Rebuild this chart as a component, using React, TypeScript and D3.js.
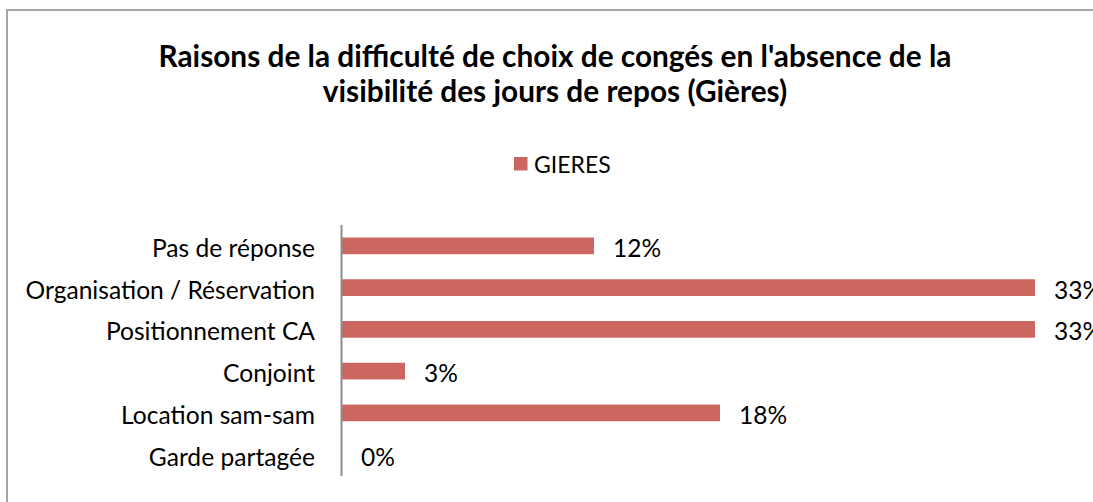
import React from 'react';
import * as d3 from 'd3';

const categories = [
  'Pas de réponse',
  'Organisation / Réservation',
  'Positionnement CA',
  'Conjoint',
  'Location sam-sam',
  'Garde partagée',
];
const values = [12, 33, 33, 3, 18, 0];
const seriesName = 'GIERES';
const titleLines = [
  "Raisons de la difficulté de choix de congés en l'absence de la",
  'visibilité des jours de repos (Gières)',
];

const W = 1093;
const H = 502;
const FONT = 'Lato, "Open Sans", sans-serif';
const BAR = '#CC6661';

const App = () => {
  const y = d3.scaleBand<string>()
    .domain(categories)
    .range([225, 475.5])
    .paddingInner(0.6)
    .paddingOuter(0.3);

  const x = d3.scaleLinear().domain([0, 35]).range([342, 1077]);

  return (
    <svg width={W} height={H} style={{ position: 'absolute', left: 0, top: 0, background: '#fff' }}>
      <rect x={7} y={10} width={1200} height={600} fill="#fff" stroke="#a6a6a6" strokeWidth={2} />

      {/* title */}
      <text fontFamily={FONT} fontWeight="bold" fontSize={29.8} textAnchor="middle" fill="#000">
        {titleLines.map((t, i) => (
          <tspan key={i} x={555} y={67 + i * 35}>{t}</tspan>
        ))}
      </text>

      {/* legend */}
      <rect x={514} y={157} width={13.5} height={13.5} fill={BAR} />
      <text x={534} y={173} fontFamily={FONT} fontSize={23} fill="#000">{seriesName}</text>

      {/* bars */}
      {categories.map((c, i) => (
        <g key={c}>
          <rect
            x={x(0)}
            y={y(c)}
            width={x(values[i]) - x(0)}
            height={y.bandwidth()}
            fill={BAR}
          />
          <text
            x={x(values[i]) + 19}
            y={y(c)! + y.bandwidth() / 2}
            dy="0.45em"
            fontFamily={FONT}
            fontSize={24.5}
            fill="#000"
          >
            {values[i]}%
          </text>
          <text
            x={315}
            y={y(c)! + y.bandwidth() / 2}
            dy="0.45em"
            textAnchor="end"
            fontFamily={FONT}
            fontSize={24.6}
            fill="#000"
          >
            {c}
          </text>
        </g>
      ))}

      {/* vertical axis */}
      <line x1={341.5} x2={341.5} y1={225} y2={476} stroke="#8c8c8c" strokeWidth={2} />
    </svg>
  );
};

export default App;
